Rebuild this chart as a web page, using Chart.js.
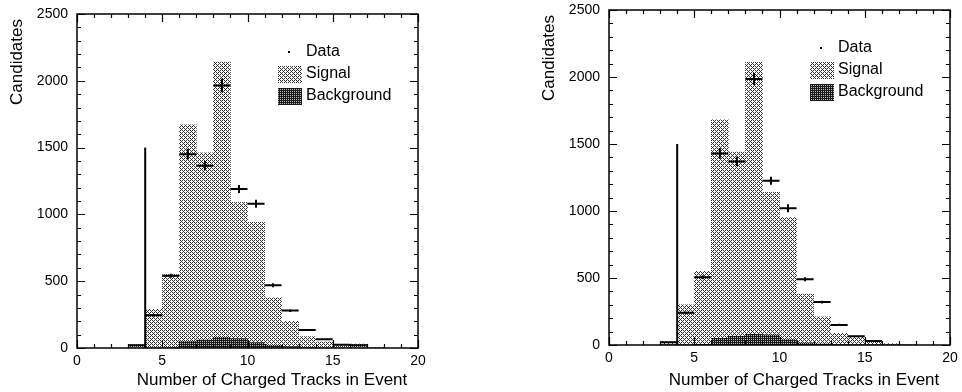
<!DOCTYPE html>
<html>
<head>
<meta charset="utf-8">
<script src="https://cdn.jsdelivr.net/npm/chart.js@4/dist/chart.umd.min.js"></script>
<style>
  html, body { margin: 0; padding: 0; background: #fff; }
  #wrap { position: relative; width: 962px; height: 392px; overflow: hidden; }
  .panel { position: absolute; top: 0; width: 481px; height: 392px; }
</style>
</head>
<body>
<div id="wrap">
  <div class="panel" style="left:0"><canvas id="c1" width="481" height="392"></canvas></div>
  <div class="panel" style="left:481px"><canvas id="c2" width="481" height="392"></canvas></div>
</div>
<script>
// ---------- data ----------
const binCenters = [3.5, 4.5, 5.5, 6.5, 7.5, 8.5, 9.5, 10.5, 11.5, 12.5, 13.5, 14.5, 15.5, 16.5, 17.5];

// Left panel
const signalLeft     = [25, 290, 550, 1670, 1460, 2140, 1090, 940, 375, 200, 85, 45, 20, 30, 5];
const backgroundLeft = [0, 0, 5, 50, 60, 80, 70, 40, 20, 10, 5, 0, 0, 0, 0];
const dataLeft       = [20, 245, 540, 1450, 1365, 1965, 1190, 1080, 470, 280, 135, 65, 25, 20, null];
const dataErrLeft    = [0, 10, 15, 40, 35, 50, 30, 30, 15, 10, 8, 5, 0, 0, 0];

// Right panel
const signalRight     = [25, 300, 550, 1680, 1440, 2110, 1140, 950, 380, 210, 87, 65, 35, 10, 0];
const backgroundRight = [0, 0, 5, 50, 65, 80, 75, 40, 15, 8, 3, 0, 0, 0, 0];
const dataRight       = [20, 240, 505, 1430, 1370, 1985, 1225, 1020, 490, 320, 150, 65, 30, null, null];
const dataErrRight    = [0, 10, 15, 40, 35, 45, 30, 30, 15, 10, 8, 5, 0, 0, 0];

// Vertical cut line drawn in both panels
const cutLineX = [4, 4];
const cutLineY = [0, 1500];

// Axis ticks / labels
const xTickLabels = [0, 5, 10, 15, 20];
const yTickLabels = [0, 500, 1000, 1500, 2000, 2500];
const xTitle = 'Number of Charged Tracks in Event';
const yTitle = 'Candidates';
const legendLabels = ['Data', 'Signal', 'Background'];

// ---------- styling helpers ----------
const bayer = [[0,8,2,10],[12,4,14,6],[3,11,1,9],[15,7,13,5]];
function makePattern(level, dark, light) {
  const c = document.createElement('canvas');
  c.width = 4; c.height = 4;
  const g = c.getContext('2d');
  for (let y = 0; y < 4; y++) for (let x = 0; x < 4; x++) {
    g.fillStyle = bayer[y][x] < level ? dark : light;
    g.fillRect(x, y, 1, 1);
  }
  return g.createPattern(c, 'repeat');
}
const FONT = '"Liberation Sans", Arial, Helvetica, sans-serif';

const framePlugin = {
  id: 'frameTicks',
  afterDatasetsDraw(chart) {
    const ctx = chart.ctx, a = chart.chartArea;
    const xs = chart.scales.x, ys = chart.scales.y;
    ctx.save();
    ctx.strokeStyle = '#000';
    ctx.lineWidth = 1.5;
    ctx.strokeRect(a.left, a.top, a.right - a.left, a.bottom - a.top);
    ctx.lineWidth = 1.2;
    ctx.beginPath();
    for (let v = 0; v <= 2500; v += 100) {
      const y = Math.round(ys.getPixelForValue(v)) + 0.5;
      const len = v % 500 === 0 ? 8 : 4;
      ctx.moveTo(a.left, y); ctx.lineTo(a.left + len, y);
      ctx.moveTo(a.right, y); ctx.lineTo(a.right - len, y);
    }
    for (let v = 0; v <= 20; v += 1) {
      const x = Math.round(xs.getPixelForValue(v)) + 0.5;
      const len = v % 5 === 0 ? 8 : 4;
      ctx.moveTo(x, a.bottom); ctx.lineTo(x, a.bottom - len);
      ctx.moveTo(x, a.top); ctx.lineTo(x, a.top + len);
    }
    ctx.stroke();
    ctx.restore();
  }
};

const errorBarPlugin = {
  id: 'errorBars',
  afterDatasetsDraw(chart, args, opts) {
    const ctx = chart.ctx, xs = chart.scales.x, ys = chart.scales.y;
    const vals = opts.values, errs = opts.errors;
    ctx.save();
    ctx.strokeStyle = '#000';
    ctx.lineWidth = 2;
    ctx.beginPath();
    binCenters.forEach((c, i) => {
      const v = vals[i];
      if (v === null || v === undefined) return;
      const y = ys.getPixelForValue(v);
      ctx.moveTo(xs.getPixelForValue(c - 0.5), y);
      ctx.lineTo(xs.getPixelForValue(c + 0.5), y);
      if (errs[i] > 0) {
        const xc = xs.getPixelForValue(c);
        ctx.moveTo(xc, ys.getPixelForValue(v - errs[i]));
        ctx.lineTo(xc, ys.getPixelForValue(v + errs[i]));
      }
    });
    ctx.stroke();
    ctx.restore();
  }
};

const legendTitlePlugin = {
  id: 'legendTitles',
  afterDraw(chart, args, opts) {
    const ctx = chart.ctx, a = chart.chartArea;
    ctx.save();
    // legend
    ctx.font = '16px ' + FONT;
    ctx.fillStyle = '#000';
    ctx.textBaseline = 'middle';
    ctx.textAlign = 'left';
    const rows = [a.top + 38, a.top + 60, a.top + 82];
    ctx.fillRect(a.left + 211, rows[0] - 1, 2, 2);
    ctx.fillStyle = opts.sigPat;
    ctx.fillRect(a.left + 201, rows[1] - 8, 24, 17);
    ctx.fillStyle = opts.bkgPat;
    ctx.fillRect(a.left + 201, rows[2] - 8, 24, 17);
    ctx.fillStyle = '#000';
    legendLabels.forEach((t, i) => ctx.fillText(t, a.left + 229, rows[i]));
    // axis titles
    ctx.font = '17px ' + FONT;
    ctx.textAlign = 'center';
    ctx.fillText(xTitle, a.left + 195, 380);
    ctx.translate(a.left - 60, a.top + 48);
    ctx.rotate(-Math.PI / 2);
    ctx.fillText(yTitle, 0, 0);
    ctx.restore();
  }
};

function makeChart(id, signal, background, dataVals, dataErr, padding) {
  const canvas = document.getElementById(id);
  const sigPat = makePattern(6, '#333333', '#ffffff');
  const bkgPat = makePattern(12, '#1a1a1a', '#bdbdbd');
  const pts = arr => binCenters.map((x, i) => ({ x, y: arr[i] }));
  return new Chart(canvas, {
    type: 'bar',
    data: {
      datasets: [
        {
          type: 'line', label: 'cut',
          data: cutLineX.map((x, i) => ({ x, y: cutLineY[i] })),
          borderColor: '#000', borderWidth: 2, pointRadius: 0, order: 0
        },
        {
          type: 'scatter', label: 'Data',
          data: binCenters.map((x, i) => ({ x, y: dataVals[i] })).filter(p => p.y !== null),
          pointRadius: 0, order: 0
        },
        {
          label: 'Background', data: pts(background), backgroundColor: bkgPat,
          grouped: false, barPercentage: 1, categoryPercentage: 1, borderWidth: 0, order: 1
        },
        {
          label: 'Signal', data: pts(signal), backgroundColor: sigPat,
          grouped: false, barPercentage: 1, categoryPercentage: 1, borderWidth: 0, order: 2
        }
      ]
    },
    options: {
      responsive: false,
      animation: false,
      devicePixelRatio: 1,
      layout: { padding: padding },
      plugins: {
        legend: { display: false },
        tooltip: { enabled: false },
        errorBars: { values: dataVals, errors: dataErr },
        legendTitles: { sigPat, bkgPat }
      },
      scales: {
        x: {
          type: 'linear', min: 0, max: 20, offset: false,
          grid: { display: false, drawTicks: false },
          border: { display: false },
          afterBuildTicks: s => { s.ticks = xTickLabels.map(v => ({ value: v })); },
          ticks: { font: { family: FONT, size: 14 }, color: '#000', padding: 5, maxRotation: 0,
                   callback: v => String(v) },
          afterFit: s => { s.height = padding.xh; s.paddingLeft = 0; s.paddingRight = 0; }
        },
        y: {
          type: 'linear', min: 0, max: 2500,
          grid: { display: false, drawTicks: false },
          border: { display: false },
          afterBuildTicks: s => { s.ticks = yTickLabels.map(v => ({ value: v })); },
          ticks: { font: { family: FONT, size: 14 }, color: '#000', padding: 9,
                   callback: v => String(v) },
          afterFit: s => { s.width = padding.yw; s.paddingTop = 0; s.paddingBottom = 0; }
        }
      }
    },
    plugins: [framePlugin, errorBarPlugin, legendTitlePlugin]
  });
}

makeChart('c1', signalLeft, backgroundLeft, dataLeft, dataErrLeft,
  { left: 0, right: 63, top: 14, bottom: 0, xh: 44, yw: 77 });
makeChart('c2', signalRight, backgroundRight, dataRight, dataErrRight,
  { left: 0, right: 12, top: 10, bottom: 0, xh: 47, yw: 128 });
</script>
</body>
</html>
